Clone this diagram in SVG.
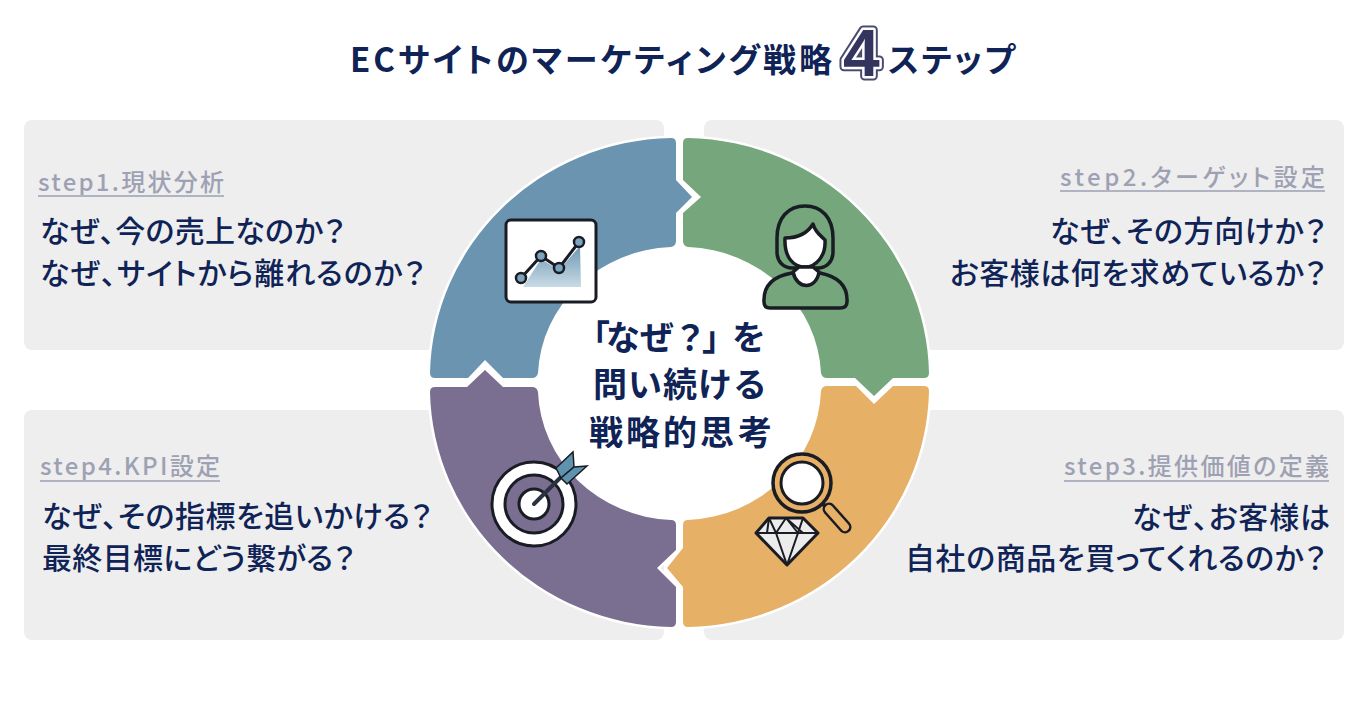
<svg xmlns="http://www.w3.org/2000/svg" width="1370" height="714" viewBox="0 0 1370 714">
<defs>
<style>
text{font-family:"Noto Sans CJK JP","Noto Sans",sans-serif;fill:#0f2356;font-weight:500;font-feature-settings:"palt" 1}
.head{font-size:33px;font-weight:700}
.body{font-size:30px}
.step{font-size:24px;fill:#9ea1b3}
.ul{stroke:#b0b3c1;stroke-width:2}
.center{font-size:34px;font-weight:700;font-feature-settings:normal}
.four{font-family:"Liberation Sans",sans-serif;font-weight:700;font-size:66px;stroke-linejoin:round;font-feature-settings:normal}
.panel{fill:#eeeeee}
.seg{stroke:#fff;stroke-width:5;paint-order:stroke;stroke-linejoin:round}
.ink{fill:none;stroke:#1a1c24;stroke-width:3.5;stroke-linejoin:round;stroke-linecap:round}
</style>
<linearGradient id="area" x1="0" y1="0" x2="0" y2="1"><stop offset="0" stop-color="#6d98b5"/><stop offset="1" stop-color="#c9dae5"/></linearGradient>
</defs>
<rect width="1370" height="714" fill="#fff"/>
<g id="title">
<text class="head" x="350" y="72" textLength="482" lengthAdjust="spacing">ECサイトのマーケティング戦略</text>
<text class="four" x="843" y="76" style="fill:#4a4a70;stroke:#4a4a70;stroke-width:9">4</text>
<text class="four" x="843" y="76" style="fill:#33355f;stroke:#fff;stroke-width:5;paint-order:stroke">4</text>
<text class="head" x="888" y="72" textLength="127" lengthAdjust="spacing">ステップ</text>
</g>
<g id="panel1">
<rect class="panel" x="24" y="120" width="640" height="230" rx="8"/>
<text class="step" x="38" y="191" textLength="186" lengthAdjust="spacing">step1.現状分析</text>
<line class="ul" x1="38" y1="196" x2="224" y2="196"/>
<text class="body" x="40" y="242" textLength="305" lengthAdjust="spacing">なぜ、今の売上なのか？</text>
<text class="body" x="40" y="284" textLength="385" lengthAdjust="spacing">なぜ、サイトから離れるのか？</text>
</g>
<g id="panel2">
<rect class="panel" x="704" y="120" width="640" height="230" rx="8"/>
<text class="step" x="1060" y="186" textLength="265" lengthAdjust="spacing">step2.ターゲット設定</text>
<line class="ul" x1="1060" y1="191" x2="1325" y2="191"/>
<text class="body" x="1050" y="242" textLength="276" lengthAdjust="spacing">なぜ、その方向けか？</text>
<text class="body" x="950" y="284" textLength="376" lengthAdjust="spacing">お客様は何を求めているか？</text>
</g>
<g id="panel3">
<rect class="panel" x="704" y="410" width="640" height="230" rx="8"/>
<text class="step" x="1064" y="475" textLength="265" lengthAdjust="spacing">step3.提供価値の定義</text>
<line class="ul" x1="1064" y1="481" x2="1329" y2="481"/>
<text class="body" x="1132" y="528" textLength="198" lengthAdjust="spacing">なぜ、お客様は</text>
<text class="body" x="905" y="569" textLength="421" lengthAdjust="spacing">自社の商品を買ってくれるのか？</text>
</g>
<g id="panel4">
<rect class="panel" x="24" y="410" width="640" height="230" rx="8"/>
<text class="step" x="40" y="475" textLength="180" lengthAdjust="spacing">step4.KPI設定</text>
<line class="ul" x1="40" y1="481" x2="220" y2="481"/>
<text class="body" x="42" y="527" textLength="390" lengthAdjust="spacing">なぜ、その指標を追いかける？</text>
<text class="body" x="42" y="569" textLength="313" lengthAdjust="spacing">最終目標にどう繋がる？</text>
</g>
<g id="ring">
<rect x="664" y="120" width="40" height="520" fill="#fff"/>
<ellipse cx="679.5" cy="382.5" rx="143" ry="138" fill="#fff"/>
<path id="seg-blue" class="seg" fill="#6b94b0" d="M671,138 Q676,138 676,143 L676,180 L692,197 L676,213 L676,241 Q676,246 671,247 A139 132 0 0 0 538,373 Q537,378 532,378 L503,378 L485,360 L468,378 L435,378 Q430,378 430,373 A246 240 0 0 1 671,138 Z"/>
<path id="seg-green" class="seg" fill="#75a67c" d="M688,138 Q683,138 683,143 L683,180 L701,197 L683,213 L683,241 Q683,246 688,247 A139 132 0 0 1 821,373 Q822,378 827,378 L855,378 L874,396 L893,378 L924,378 Q929,378 929,373 A246 240 0 0 0 688,138 Z"/>
<path id="seg-orange" class="seg" fill="#e6b066" d="M924,386 Q929,386 929,391 A246 241 0 0 1 688,627 Q683,627 683,622 L683,587 L667,568 L683,548 L683,525 Q683,520 688,520 A139 134 0 0 0 821,391 Q822,386 827,386 L856,386 L874,404 L893,386 Z"/>
<path id="seg-purple" class="seg" fill="#7a6f90" d="M435,387 Q430,387 430,392 A246 240 0 0 0 671,627 Q676,627 676,622 L676,587 L657,568 L676,550 L676,525 Q676,520 671,520 A139 133 0 0 1 538,392 Q537,387 532,387 L503,387 L485,370 L467,387 Z"/>
</g>
<g id="center-label">
<text class="center" x="576 606 640 673 702 732" y="350">「なぜ？」を</text>
<text class="center" x="593 628 663 698 733" y="397">問い続ける</text>
<text class="center" x="589 626 663 700 738" y="445">戦略的思考</text>
</g>
<g id="icon-chart">
<rect x="506" y="220" width="90" height="82" rx="5" fill="#fff" stroke="#1a1c24" stroke-width="3"/>
<path d="M523,287 L541,259 L559,270 L580,246 L581,287 Z" fill="url(#area)"/>
<polyline class="ink" style="stroke-width:3" points="521,278 541,256 559,268 579,242"/>
<g fill="#7da4bf" stroke="#1a1c24" stroke-width="2.5"><circle cx="521" cy="278" r="5"/><circle cx="541" cy="256" r="5"/><circle cx="559" cy="268" r="5"/><circle cx="579" cy="242" r="5"/></g>
</g>
<g id="icon-person">
<path class="ink" d="M805,206 C822,206 833,218 833,238 L833,252 C833,262 826,268 818,268 L792,268 C784,268 777,262 777,252 L777,238 C777,218 788,206 805,206 Z"/>
<path class="ink" style="fill:#fff" d="M785,238 C797,238 807,234 813,224 C815,232 821,236 825,240 C826,256 816,267 805,267 C794,267 784,258 785,238 Z"/>
<path class="ink" style="fill:#75a67c" d="M792,273 C775,276 763,284 764,302 Q764,308 770,308 L840,308 Q847,308 847,302 C848,284 835,276 820,273"/>
<path class="ink" style="fill:#fff" d="M793,272 C797,290 816,290 819,272 L813,267 L799,267 Z"/>
</g>
<g id="icon-target">
<circle cx="534" cy="504" r="42" fill="#fff" stroke="#1a1c24" stroke-width="3"/>
<circle cx="534" cy="504" r="29" fill="#7a6f90" stroke="#1a1c24" stroke-width="3"/>
<circle cx="534" cy="504" r="15" fill="#fff" stroke="#1a1c24" stroke-width="3"/>
<path d="M534,504 L566,472" stroke="#2a3240" stroke-width="4" stroke-linecap="round"/>
<path d="M556,468 L573,452 L574,467 L561,478 Z" fill="#5f93ad" stroke="#1a1c24" stroke-width="1.5"/>
<path d="M587,466 L574,467 L561,478 L567,484 Z" fill="#5f93ad" stroke="#1a1c24" stroke-width="1.5"/>
</g>
<g id="icon-magnifier">
<circle cx="802" cy="483" r="29" fill="#e6b066" stroke="#1a1c24" stroke-width="3.5"/>
<circle cx="802" cy="483" r="21" fill="#fff" stroke="#1a1c24" stroke-width="3"/>
<path d="M823,504 L829,510" stroke="#1a1c24" stroke-width="4"/>
<path d="M829,509 L845,527" stroke="#1a1c24" stroke-width="13" stroke-linecap="round"/>
<path d="M829,509 L845,527" stroke="#e6b066" stroke-width="8" stroke-linecap="round"/>
<path d="M769,518 L803,518 L818,533 L787,565 L756,533 Z" fill="#ececec" stroke="#1a1c24" stroke-width="3" stroke-linejoin="round"/>
<path class="ink" style="stroke-width:2" d="M756,533 L818,533 M769,518 L776,533 L787,565 L798,533 L803,518 M769,518 L767,533 M776,533 L786,518 L798,533 M786,518 L803,533"/>
</g>
</svg>
